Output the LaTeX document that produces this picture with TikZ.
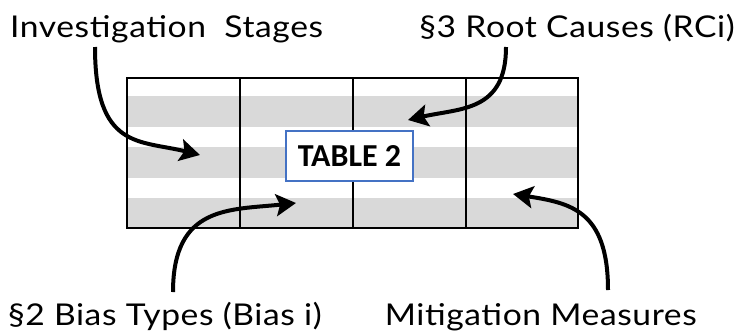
\documentclass[tikz,border=0pt]{standalone}
\usepackage{fontspec}
\setmainfont{Lato}[FakeStretch=1.12,LetterSpace=2]
\newfontfamily\boxfont{Carlito}
\usetikzlibrary{arrows.meta}
\definecolor{stripe}{HTML}{D9D9D9}
\definecolor{boxblue}{HTML}{4472C4}
\tikzset{
  lbl/.style={inner sep=0pt, font=\fontsize{30}{36}\selectfont},
  grid/.style={draw=black, line width=2pt},
  callout/.style={line width=4pt, -{Stealth[length=20pt,width=22pt,inset=4pt]}},
  tablebox/.style={draw=boxblue, line width=1.5pt, fill=white, minimum width=127pt, minimum height=50pt, inner sep=0pt, font=\boxfont\bfseries\fontsize{32}{36}\selectfont}
}
\begin{document}
\begin{tikzpicture}[x=1pt,y=-1pt]
\useasboundingbox (0,0) rectangle (739,335);
% stripes
\foreach \a/\b in {96/127,147/178,198/228}{
  \fill[stripe] (127,\a) rectangle (578,\b);
}
% grid
\draw[grid] (127,78) rectangle (578,228);
\foreach \x in {240,353,466}{
  \draw[grid] (\x,78) -- (\x,228);
}
% table label
\node[tablebox] (tbl) at (349.5,156) {TABLE 2};
% labels
\node[lbl, anchor=base west] (stages) at (10,37) {Investigation\ \ Stages};
\node[lbl, anchor=base east] (root) at (735,37) {§3 Root Causes (RCi)};
\node[lbl, anchor=base west] (bias) at (8,325) {§2 Bias Types (Bias i)};
\node[lbl, anchor=base east] (mitig) at (697,325) {Mitigation Measures};
% arrow endpoints
\coordinate (s1) at (95,47);   \coordinate (t1) at (200,155);
\coordinate (s2) at (506,47);  \coordinate (t2) at (408,120);
\coordinate (s3) at (173,292); \coordinate (t3) at (296,203);
\coordinate (s4) at (608,290); \coordinate (t4) at (513,194);
\draw[callout] (s1) .. controls (95,150) and (140,140) .. (t1);
\draw[callout] (s2) .. controls (506,112) and (460,108) .. (t2);
\draw[callout] (s3) .. controls (173,205) and (230,210) .. (t3);
\draw[callout] (s4) .. controls (608,210) and (570,203) .. (t4);
\end{tikzpicture}
\end{document}
